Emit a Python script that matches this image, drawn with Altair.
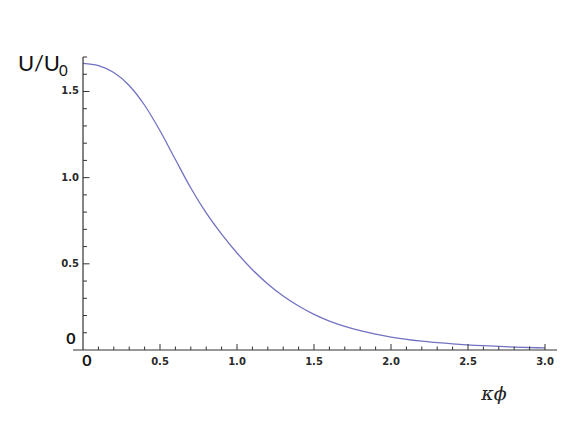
import altair as alt
import pandas as pd

# curve
kphi = [0.0, 0.1, 0.2, 0.3, 0.4, 0.5, 0.6, 0.7, 0.8, 0.9, 1.0, 1.1, 1.2, 1.3, 1.4,
        1.5, 1.6, 1.7, 1.8, 1.9, 2.0, 2.2, 2.4, 2.6, 2.8, 3.0]
u_ratio = [1.663, 1.650, 1.610, 1.535, 1.420, 1.272, 1.105, 0.940, 0.795, 0.672, 0.563,
           0.466, 0.383, 0.313, 0.255, 0.207, 0.168, 0.137, 0.112, 0.092, 0.075, 0.051,
           0.036, 0.025, 0.017, 0.012]

x_major = [0.5, 1.0, 1.5, 2.0, 2.5, 3.0]
x_major_labels = ["0.5", "1.0", "1.5", "2.0", "2.5", "3.0"]
x_minor = [0.1, 0.2, 0.3, 0.4, 0.6, 0.7, 0.8, 0.9, 1.1, 1.2, 1.3, 1.4, 1.6, 1.7, 1.8, 1.9,
           2.1, 2.2, 2.3, 2.4, 2.6, 2.7, 2.8, 2.9]
y_major = [0.5, 1.0, 1.5]
y_major_labels = ["0.5", "1.0", "1.5"]
y_minor = [0.1, 0.2, 0.3, 0.4, 0.6, 0.7, 0.8, 0.9, 1.1, 1.2, 1.3, 1.4, 1.6, 1.7]

X_DOMAIN = [-0.065, 3.078]
Y_DOMAIN = [0, 1.70]
W, H = 484, 293

xs = alt.Scale(domain=X_DOMAIN, nice=False, zero=False)
ys = alt.Scale(domain=Y_DOMAIN, nice=False, zero=False)

curve_df = pd.DataFrame({"x": kphi, "y": u_ratio})
xmaj_df = pd.DataFrame({"x": x_major, "lab": x_major_labels, "y": 0.0, "y2": 6 / 172.4})
xmin_df = pd.DataFrame({"x": x_minor, "y": 0.0, "y2": 3.5 / 172.4})
ymaj_df = pd.DataFrame({"y": y_major, "lab": y_major_labels, "x": 0.0, "x2": 6.5 / 154.0})
ymin_df = pd.DataFrame({"y": y_minor, "x": 0.0, "x2": 4.0 / 154.0})
xaxis_df = pd.DataFrame({"x": [X_DOMAIN[0]], "x2": [X_DOMAIN[1]], "y": [0.0]})
yaxis_df = pd.DataFrame({"x": [0.0], "y": [0.0], "y2": [Y_DOMAIN[1]]})
zero_df = pd.DataFrame({"x": [0.0], "y": [0.0], "lab": ["0"]})

AX = "#333333"
LBL = "#2a2a2a"

X = alt.X("x:Q", scale=xs, axis=None)
Y = alt.Y("y:Q", scale=ys, axis=None)

curve = alt.Chart(curve_df).mark_line(
    color="#7272c2", strokeWidth=1.3, interpolate="monotone"
).encode(x=X, y=Y)

x_axis_line = alt.Chart(xaxis_df).mark_rule(color=AX, strokeWidth=1.2).encode(
    x=X, x2="x2:Q", y=Y
)
y_axis_line = alt.Chart(yaxis_df).mark_rule(color=AX, strokeWidth=1.2).encode(
    x=X, y=Y, y2="y2:Q"
)
x_major_ticks = alt.Chart(xmaj_df).mark_rule(color=AX, strokeWidth=1).encode(
    x=X, y=Y, y2="y2:Q"
)
x_minor_ticks = alt.Chart(xmin_df).mark_rule(color=AX, strokeWidth=1).encode(
    x=X, y=Y, y2="y2:Q"
)
y_major_ticks = alt.Chart(ymaj_df).mark_rule(color=AX, strokeWidth=1).encode(
    x=X, x2="x2:Q", y=Y
)
y_minor_ticks = alt.Chart(ymin_df).mark_rule(color=AX, strokeWidth=1).encode(
    x=X, x2="x2:Q", y=Y
)

x_labels = alt.Chart(xmaj_df).mark_text(
    font="DejaVu Sans", fontSize=10, fontWeight="bold", color=LBL,
    baseline="middle", align="center", dy=12
).encode(x=X, y=Y, text="lab:N")

y_labels = alt.Chart(ymaj_df).mark_text(
    font="DejaVu Sans", fontSize=10, fontWeight="bold", color=LBL,
    baseline="middle", align="right", dx=-4
).encode(x=X, y=Y, text="lab:N")

zero_x = alt.Chart(zero_df).mark_text(
    font="Lato", fontSize=16, fontWeight="bold", color="#111111",
    baseline="middle", align="center", dx=4, dy=11
).encode(x=X, y=Y, text="lab:N")

zero_y = alt.Chart(zero_df).mark_text(
    font="Lato", fontSize=16, fontWeight="bold", color="#111111",
    baseline="middle", align="center", dx=-12, dy=-11
).encode(x=X, y=Y, text="lab:N")

ytitle_main = alt.Chart(zero_df).mark_text(
    font="Lato", fontSize=22, color="#111111", baseline="alphabetic", align="left"
).encode(x=alt.value(-55), y=alt.value(14), text=alt.value("U/U"))
ytitle_sub = alt.Chart(zero_df).mark_text(
    font="Lato", fontSize=15, color="#111111", baseline="alphabetic", align="left"
).encode(x=alt.value(-14), y=alt.value(19), text=alt.value("0"))

xtitle = alt.Chart(zero_df).mark_text(
    font="DejaVu Serif", fontSize=19, fontStyle="italic", color="#222222",
    baseline="middle", align="center"
).encode(x=alt.value(421), y=alt.value(H + 44), text=alt.value("κϕ"))

chart = alt.layer(
    curve, x_axis_line, y_axis_line, x_major_ticks, x_minor_ticks, y_major_ticks,
    y_minor_ticks, x_labels, y_labels, zero_x, zero_y, ytitle_main, ytitle_sub, xtitle
).properties(
    width=W, height=H,
    autosize=alt.AutoSizeParams(type="none"),
    padding={"left": 65, "top": 49, "right": 16, "bottom": 70},
).configure_view(stroke=None)

chart.save("out.html", embed_options={"renderer": "svg", "actions": False})
